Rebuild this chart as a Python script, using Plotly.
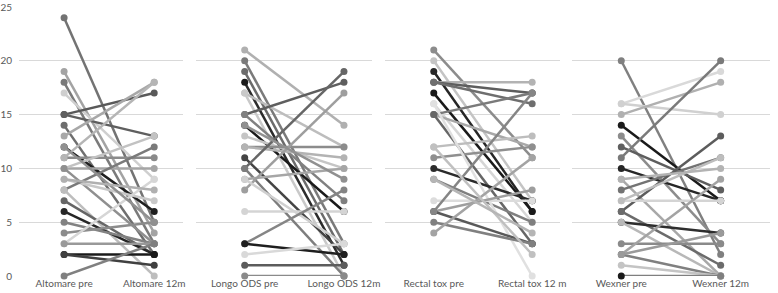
import plotly.graph_objects as go

# ---------------- data ----------------
categories = [
    ("Altomare pre", "Altomare 12m"),
    ("Longo ODS pre", "Longo ODS 12m"),
    ("Rectal tox pre", "Rectal tox 12 m"),
    ("Wexner pre", "Wexner 12m"),
]

altomare_pre = [24, 19, 18, 17, 15, 15, 14, 13, 12, 11, 11, 10, 10, 10, 9, 8, 8, 7, 6, 5, 4, 3, 3, 2, 2, 0, 12, 9]
altomare_12m = [5, 4, 3, 9, 17, 13, 2, 18, 6, 11, 18, 10, 13, 3, 7, 12, 0, 2, 2, 3, 5, 9, 3, 2, 1, 3, 5, 8]

longo_pre = [21, 20, 19, 18, 17, 17, 15, 15, 14, 13, 12, 12, 11, 10, 10, 9, 8, 9, 6, 3, 3, 2, 1, 0, 14]
longo_12m = [14, 3, 2, 1, 12, 0, 18, 7, 6, 10, 12, 11, 2, 19, 0, 10, 17, 3, 6, 8, 2, 3, 1, 0, 9]

rectal_pre = [21, 20, 19, 18, 18, 18, 17, 16, 15, 15, 15, 12, 11, 10, 9, 7, 16, 6, 6, 5, 4, 6, 12, 9]
rectal_12m = [11, 7, 6, 18, 17, 16, 6, 5, 17, 12, 3, 13, 12, 7, 5, 7, 0, 8, 3, 3, 11, 17, 2, 4]

wexner_pre = [20, 16, 16, 15, 14, 13, 12, 11, 10, 9, 8, 6, 7, 7, 6, 5, 5, 3, 2, 2, 1, 0, 9, 2]
wexner_12m = [2, 19, 15, 18, 7, 3, 8, 20, 7, 0, 11, 13, 7, 11, 1, 4, 0, 3, 9, 0, 0, 0, 10, 4]

pre_values = [altomare_pre, longo_pre, rectal_pre, wexner_pre]
post_values = [altomare_12m, longo_12m, rectal_12m, wexner_12m]

y_ticks = [0, 5, 10, 15, 20, 25]

# ---------------- style ----------------
panel_colors = [
    ["#737373", "#a3a3a3", "#7a7a7a", "#cfcfcf", "#595959", "#5f5f5f", "#6e6e6e",
     "#a8a8a8", "#1f1f1f", "#8a8a8a", "#b5b5b5", "#a5a5a5", "#c2c2c2", "#8f8f8f",
     "#c8c8c8", "#7a7a7a", "#bdbdbd", "#666666", "#262626", "#828282", "#8c8c8c",
     "#d6d6d6", "#999999", "#1a1a1a", "#404040", "#808080", "#909090", "#b0b0b0"],
    ["#b0b0b0", "#7a7a7a", "#6b6b6b", "#2b2b2b", "#bdbdbd", "#c9c9c9", "#5e5e5e",
     "#808080", "#1a1a1a", "#c5c5c5", "#8c8c8c", "#b3b3b3", "#444444", "#666666",
     "#7d7d7d", "#a6a6a6", "#9e9e9e", "#d0d0d0", "#d4d4d4", "#858585", "#1f1f1f",
     "#d9d9d9", "#5c5c5c", "#8a8a8a", "#909090"],
    ["#8c8c8c", "#c4c4c4", "#262626", "#b3b3b3", "#5e5e5e", "#6e6e6e", "#1a1a1a",
     "#d6d6d6", "#7a7a7a", "#a8a8a8", "#666666", "#bdbdbd", "#8f8f8f", "#2b2b2b",
     "#7f7f7f", "#dcdcdc", "#e0e0e0", "#9e9e9e", "#595959", "#808080", "#a3a3a3",
     "#858585", "#c0c0c0", "#b5b5b5"],
    ["#808080", "#d9d9d9", "#d0d0d0", "#b0b0b0", "#1a1a1a", "#8c8c8c", "#5e5e5e",
     "#7a7a7a", "#262626", "#a8a8a8", "#737373", "#5c5c5c", "#d4d4d4", "#bdbdbd",
     "#6b6b6b", "#2e2e2e", "#b8b8b8", "#8a8a8a", "#a3a3a3", "#808080", "#c4c4c4",
     "#7f7f7f", "#b3b3b3", "#9a9a9a"],
]
marker_override = {(3, 21): "#1a1a1a", (1, 3): "#1a1a1a"}

W, H = 778, 293
ML, MR, MT, MB = 17, 0, 3, 17
PW = W - ML - MR
# panel pixel geometry: (left, right, pre_x, post_x)
panels_px = [(17, 183, 62.7, 154.0),
             (196, 375, 245.7, 346.3),
             (388, 565, 437.3, 537.0),
             (577, 778, 627.3, 728.0)]

fig = go.Figure()
font_family = "Lato, 'Open Sans', sans-serif"
label_color = "#595959"

for i, (pre, post) in enumerate(zip(pre_values, post_values)):
    xa = "x" if i == 0 else f"x{i+1}"
    ya = "y" if i == 0 else f"y{i+1}"
    cols = panel_colors[i]
    for j, (a, b) in enumerate(zip(pre, post)):
        c = cols[j % len(cols)]
        mc = [marker_override.get((i, j), c), c]
        fig.add_trace(go.Scatter(
            x=[0, 1], y=[a, b], mode="lines+markers",
            line=dict(color=c, width=2.5),
            marker=dict(color=mc, size=7),
            xaxis=xa, yaxis=ya, showlegend=False, cliponaxis=False,
            hoverinfo="y"))

layout = dict(
    width=W, height=H,
    margin=dict(l=ML, r=MR, t=MT, b=MB),
    plot_bgcolor="white", paper_bgcolor="white",
    font=dict(family=font_family, size=10, color=label_color),
)

for i, (l, r, p, q) in enumerate(panels_px):
    u = q - p
    rng = [-(p - l) / u, 1 + (r - q) / u]
    dom = [max(0, (l - ML) / PW), min(1, (r - ML) / PW)]
    xname = "xaxis" if i == 0 else f"xaxis{i+1}"
    yname = "yaxis" if i == 0 else f"yaxis{i+1}"
    ysuffix = "y" if i == 0 else f"y{i+1}"
    xsuffix = "x" if i == 0 else f"x{i+1}"
    layout[xname] = dict(
        domain=dom, range=rng, anchor=ysuffix,
        tickvals=[0, 1], ticktext=list(categories[i]),
        showgrid=False, zeroline=False, showline=False, ticks="",
        tickfont=dict(size=10, color=label_color), fixedrange=True,
        ticklabeloverflow="allow")
    layout[yname] = dict(
        range=[0, 25], anchor=xsuffix, domain=[0, 1],
        tickvals=y_ticks, showticklabels=(i == 0),
        showgrid=True, gridcolor="#d9d9d9", gridwidth=1,
        zeroline=False, showline=False, ticks="",
        tickfont=dict(size=10, color=label_color), fixedrange=True,
        ticklabeloverflow="allow")
    if i > 0:
        layout[yname]["matches"] = "y"

layout["yaxis"]["ticklabelstandoff"] = 6
fig.update_layout(**layout)
fig.write_html("out.html",
               config={"displayModeBar": False},
               post_script="document.body.style.margin='0';document.body.style.padding='0';")
